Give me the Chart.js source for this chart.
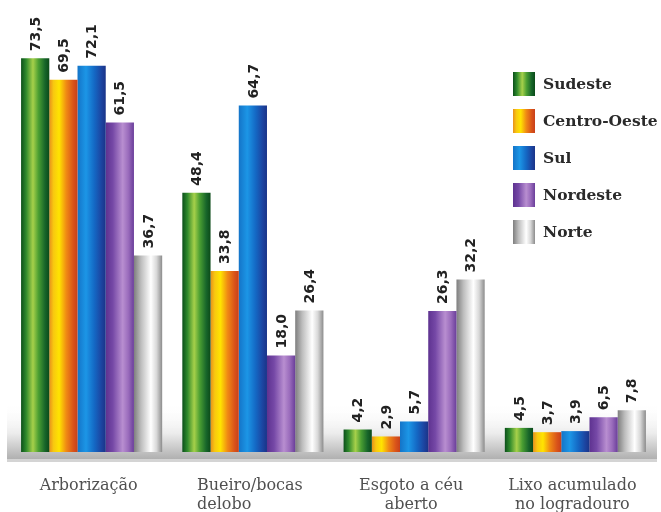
<!DOCTYPE html>
<html>
<head>
<meta charset="utf-8">
<script src="https://cdn.jsdelivr.net/npm/chart.js@4"></script>
<style>
  html, body { margin: 0; padding: 0; background: #ffffff; }
  #wrap { width: 661px; height: 512px; }
</style>
</head>
<body>
<div id="wrap"><canvas id="c" width="661" height="512"></canvas></div>
<script>
// Categories (multi-line axis labels)
const categories = [
  ['Arborização'],
  ['Bueiro/bocas', 'delobo'],
  ['Esgoto a céu', 'aberto'],
  ['Lixo acumulado', 'no logradouro']
];

// Region names
const regions = ['Sudeste', 'Centro-Oeste', 'Sul', 'Nordeste', 'Norte'];

// Values (%) per region
const sudeste     = [73.5, 48.4, 4.2, 4.5];
const centroOeste = [69.5, 33.8, 2.9, 3.7];
const sul         = [72.1, 64.7, 5.7, 3.9];
const nordeste    = [61.5, 18.0, 26.3, 6.5];
const norte       = [36.7, 26.4, 32.2, 7.8];

const seriesValues = [sudeste, centroOeste, sul, nordeste, norte];

// Line alignment of each category label block
const labelAlign = ['center', 'left', 'center', 'center'];

// Horizontal "cylinder" gradients for each region
const gradientStops = [
  [[0, '#0b4f1a'], [0.18, '#2f8a2c'], [0.42, '#a6d04a'], [0.62, '#4a9e32'], [0.85, '#17652a'], [1, '#0b4a18']],
  [[0, '#e8901c'], [0.15, '#f8c810'], [0.35, '#ffe400'], [0.6, '#f08a14'], [0.85, '#d9531a'], [1, '#c8401a']],
  [[0, '#1474c8'], [0.3, '#1c96e6'], [0.6, '#1468c4'], [0.85, '#1c44a0'], [1, '#1a3488']],
  [[0, '#5e3290'], [0.25, '#7548a6'], [0.6, '#b88ed0'], [0.8, '#9a6cbc'], [1, '#6a3e9a']],
  [[0, '#7e7e7e'], [0.25, '#bdbdbd'], [0.6, '#ffffff'], [0.8, '#d8d8d8'], [1, '#8c8c8c']]
];
const fallbackColors = ['#2f8a2c', '#f5a623', '#1a7fd6', '#8a5ab8', '#c8c8c8'];

const CAT_PCT = 0.875;

function makeGradient(ctx2d, left, width, stops) {
  const g = ctx2d.createLinearGradient(left, 0, left + width, 0);
  stops.forEach(([p, c]) => g.addColorStop(p, c));
  return g;
}

function barFill(context) {
  const chart = context.chart;
  const ds = context.datasetIndex;
  const xs = chart.scales && chart.scales.x;
  if (!xs || !chart.chartArea || context.dataIndex === undefined) return fallbackColors[ds];
  const n = chart.data.datasets.length;
  const center = xs.getPixelForValue(context.dataIndex);
  const catW = xs.width / chart.data.labels.length;
  const groupW = catW * CAT_PCT;
  const barW = groupW / n;
  const left = center - groupW / 2 + ds * barW;
  return makeGradient(chart.ctx, left, barW, gradientStops[ds]);
}

// Shaded floor under the bars
const floorPlugin = {
  id: 'floor',
  beforeDatasetsDraw(chart) {
    const { ctx } = chart;
    const base = chart.scales.y.getPixelForValue(0);
    const x0 = 7, x1 = 657;
    ctx.save();
    const g = ctx.createLinearGradient(0, base - 50, 0, base + 7);
    g.addColorStop(0, 'rgba(255,255,255,0)');
    g.addColorStop(0.55, '#ececec');
    g.addColorStop(1, '#b0b0b0');
    ctx.fillStyle = g;
    ctx.fillRect(x0, base - 50, x1 - x0, 57);
    ctx.fillStyle = '#d4d4d4';
    ctx.fillRect(x0, base + 7, x1 - x0, 3);
    ctx.restore();
  }
};

// Rotated value labels above each bar
const valueLabels = {
  id: 'valueLabels',
  afterDatasetsDraw(chart) {
    const { ctx } = chart;
    ctx.save();
    ctx.font = 'bold 14px "DejaVu Sans"';
    ctx.fillStyle = '#222222';
    ctx.textAlign = 'left';
    ctx.textBaseline = 'middle';
    chart.data.datasets.forEach((ds, di) => {
      const meta = chart.getDatasetMeta(di);
      meta.data.forEach((el, i) => {
        const v = ds.data[i];
        ctx.save();
        ctx.translate(el.x, el.y - 7);
        ctx.rotate(-Math.PI / 2);
        ctx.fillText(v.toFixed(1).replace('.', ','), 0, 1);
        ctx.restore();
      });
    });
    ctx.restore();
  }
};

// Category labels under the floor
const categoryLabels = {
  id: 'categoryLabels',
  afterDraw(chart) {
    const { ctx } = chart;
    const xs = chart.scales.x;
    const base = chart.scales.y.getPixelForValue(0);
    ctx.save();
    ctx.font = '16px "DejaVu Serif"';
    ctx.fillStyle = '#505050';
    ctx.textBaseline = 'middle';
    chart.data.labels.forEach((lines, i) => {
      const cx = xs.getPixelForValue(i) - 3;
      const widest = Math.max(...lines.map(l => ctx.measureText(l).width));
      lines.forEach((line, k) => {
        const y = base + 34 + k * 19;
        if (labelAlign[i] === 'left') {
          ctx.textAlign = 'left';
          ctx.fillText(line, cx - widest / 2, y);
        } else {
          ctx.textAlign = 'center';
          ctx.fillText(line, cx, y);
        }
      });
    });
    ctx.restore();
  }
};

// Legend with gradient swatches
const sideLegend = {
  id: 'sideLegend',
  afterDraw(chart) {
    const { ctx } = chart;
    const sx = 513, sw = 22, sh = 24, top = 72, step = 37;
    ctx.save();
    ctx.font = 'bold 15.5px "DejaVu Serif"';
    ctx.textAlign = 'left';
    ctx.textBaseline = 'middle';
    chart.data.datasets.forEach((ds, i) => {
      const y = top + i * step;
      ctx.fillStyle = makeGradient(ctx, sx, sw, gradientStops[i]);
      ctx.fillRect(sx, y, sw, sh);
      ctx.fillStyle = '#2a2a2a';
      ctx.fillText(ds.label, 543, y + sh / 2 + 1);
    });
    ctx.restore();
  }
};

const datasets = regions.map((name, i) => ({
  label: name,
  data: seriesValues[i],
  backgroundColor: barFill,
  borderWidth: 0,
  barPercentage: 1,
  categoryPercentage: CAT_PCT
}));

new Chart(document.getElementById('c'), {
  type: 'bar',
  data: { labels: categories, datasets },
  options: {
    responsive: false,
    animation: false,
    layout: { padding: { left: 11, right: 5, top: 2, bottom: 0 } },
    plugins: { legend: { display: false }, tooltip: { enabled: false } },
    scales: {
      x: {
        grid: { display: false, drawTicks: false },
        border: { display: false },
        ticks: { display: false },
        afterFit(scale) { scale.height = 60; }
      },
      y: {
        display: false,
        min: 0,
        max: 84
      }
    }
  },
  plugins: [floorPlugin, valueLabels, categoryLabels, sideLegend]
});
</script>
</body>
</html>
